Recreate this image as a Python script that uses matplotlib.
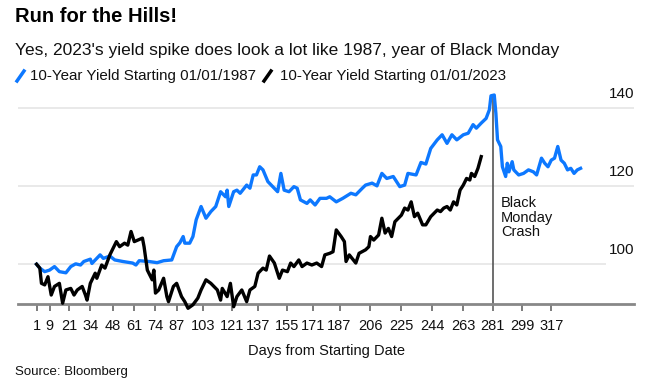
import matplotlib.pyplot as plt
from matplotlib.lines import Line2D
import matplotlib.transforms as mtransforms

plt.rcParams['font.family'] = ['Liberation Sans', 'DejaVu Sans']

# 1987 series, indexed to 100 on day 1
blue_days = [1, 3, 6, 9, 12, 15, 19, 22, 25, 28, 30, 34, 35, 40, 42, 46, 49, 54, 60, 62,
             64, 70, 75, 79, 84, 87, 89, 91, 92, 95, 97, 99, 102, 105, 108, 111, 114, 117, 118, 119,
             122, 124, 126, 130, 132, 134, 136, 138, 140, 143, 146, 149, 151, 153, 156, 159, 161, 163, 167, 169,
             172, 175, 179, 181, 185, 189, 194, 197, 201, 203, 207, 210, 213, 216, 220, 224, 227, 229, 234, 237,
             240, 243, 247, 250, 253, 256, 259, 263, 266, 269, 271, 274, 277, 279, 280, 282, 283, 284, 286, 287,
             289, 290, 291, 293, 294, 297, 300, 303, 306, 308, 311, 313, 315, 317, 319, 321, 323, 325, 327, 329,
             331, 333, 335]
blue_vals = [100, 99, 98.1, 98.5, 99.4, 98.1, 97.8, 99.4, 100.1, 99.8, 100.7, 101.3, 100.2, 102.4, 101.5, 102.1, 101.1, 100.7, 100.3, 99.8,
             100.9, 100.7, 100.4, 100.9, 101.1, 104.5, 105.5, 107.1, 105.4, 105.4, 107.1, 111.4, 114.8, 111.8, 113.5, 114.8, 118.6, 117.3, 119, 114.8,
             118.6, 119, 118.2, 120.3, 119.5, 122.9, 122.9, 125, 124.2, 121.2, 119.9, 118.6, 123.3, 119, 118.6, 119.9, 119.5, 116.5, 115.6, 116.5,
             115.2, 116.9, 116.9, 117.3, 116, 116.9, 118.2, 117.8, 119.5, 120.3, 120.8, 120.1, 123.3, 122, 122.5, 119.9, 120.3, 123.3, 122.9, 126.1,
             125.7, 129.7, 131.9, 133.2, 131, 133.2, 131.9, 133.2, 133.6, 135.8, 134.9, 136.2, 137.4, 139.6, 143.2, 143.4, 138.7, 131.9, 130.2, 125,
             122.5, 125.9, 123.7, 126.3, 124.2, 122.9, 123.3, 124.2, 123.7, 122.9, 127.2, 125.9, 125, 126.7, 127.2, 130.2, 126.7, 125.9, 124.2, 124.6,
             123.3, 124.2, 124.6]

# 2023 series, indexed to 100 on day 1
black_days = [1, 3, 4, 6, 8, 10, 12, 15, 17, 19, 22, 24, 26, 29, 31, 32, 34, 37, 38, 41,
              43, 46, 50, 52, 55, 57, 59, 61, 66, 67, 69, 72, 73, 74, 76, 79, 81, 82, 85, 87,
              90, 92, 94, 97, 100, 102, 105, 108, 112, 114, 115, 118, 120, 122, 124, 127, 130, 132, 135, 137,
              140, 142, 144, 147, 150, 152, 155, 157, 159, 162, 164, 167, 170, 173, 176, 178, 181, 183, 185, 188,
              190, 191, 193, 197, 199, 203, 205, 206, 208, 211, 213, 215, 217, 219, 221, 225, 227, 229, 231, 233,
              235, 238, 240, 243, 247, 249, 251, 253, 255, 257, 259, 261, 263, 265, 267, 268, 270, 272, 274]
black_vals = [100, 99, 95.1, 94.7, 96.8, 92.1, 94.3, 95.1, 90, 93.4, 93.8, 92.1, 93.4, 94.3, 92.1, 90.8, 95.1, 97.7, 96.4, 99.8,
              99, 102.4, 105.8, 104.5, 105.4, 104.9, 108.4, 105.8, 106.7, 104.5, 98.5, 96, 98.5, 92.6, 93.4, 96.4, 91.7, 90.4, 94.3, 95.1,
              91.7, 90.4, 88.7, 89.6, 91.3, 93.4, 96, 95.1, 93.4, 90.8, 93.8, 91.7, 95.1, 89.1, 91.7, 93.4, 90.4, 93.4, 94.3, 97.7,
              99, 98.5, 102.1, 100.3, 96.4, 98.5, 98.1, 100.3, 99.4, 101.1, 99.4, 100.3, 99.8, 100.3, 99.4, 102.4, 102.8, 103.2, 108.8, 107.1,
              105.8, 100.7, 102.4, 100.3, 102.8, 103.7, 104.5, 107.1, 106.2, 107.5, 111.8, 108, 109.2, 107.1, 110.9, 112.6, 114.4, 113.9, 116, 112.2,
              113.1, 110.1, 110.1, 112.2, 113.9, 113.5, 114.4, 114.8, 113.9, 116, 115.2, 119, 120.3, 122, 121.6, 123.3, 122.5, 124.6, 127.6]

tick_days = [1, 9, 21, 34, 48, 61, 74, 87, 103, 121, 137, 155, 171, 187, 206, 225, 244, 263, 281, 299, 317]
grid_vals = [140, 120, 100]
crash_day = 281

blue = '#0d78ff'
W, H = 658, 391
fig = plt.figure(figsize=(W / 100, H / 100), dpi=100)
ax = fig.add_axes([18 / W, 1 - 304 / H, 616 / W, 216 / H])
ax.set_xlim(-10.4, 367.8)
ax.set_ylim(89.8, 145.2)

# gridlines and right-hand labels
ax.hlines([140, 120], -10.4, 367.8, color='#e9e9e9', lw=1.4, zorder=0)
ax.hlines([100], -10.4, 350.6, color='#e9e9e9', lw=1.4, zorder=0)
off = mtransforms.ScaledTranslation(0, 14 / 100, fig.dpi_scale_trans)
for v in grid_vals:
    ax.text(1.0, v, str(v), transform=ax.get_yaxis_transform() + off,
            ha='right', va='center', fontsize=11, color='#111111')

ax.plot(blue_days, blue_vals, color=blue, lw=2.4, zorder=3, solid_joinstyle='round')
ax.plot(black_days, black_vals, color='black', lw=2.4, zorder=3, clip_on=False,
        solid_joinstyle='round')

ax.vlines(crash_day, 89.8, 143.4, color='#555555', lw=1.2, zorder=2)
ax.text(crash_day + 5, 117.5, 'Black\nMonday\nCrash', ha='left', va='top',
        fontsize=10.5, linespacing=1.05, color='#111111')

for s in ['top', 'left', 'right']:
    ax.spines[s].set_visible(False)
ax.spines['bottom'].set_color('#888888')
ax.spines['bottom'].set_linewidth(2)
ax.set_yticks([])
ax.set_xticks(tick_days)
ax.set_xticklabels([str(d) for d in tick_days])
ax.tick_params(axis='x', direction='out', length=5, width=1.2, color='#666666',
               labelsize=10.5, pad=6, labelcolor='#111111')
ax.set_xlabel('Days from Starting Date', fontsize=10.5, labelpad=8, color='#111111')

fig.text(15 / W, 1 - 17 / H, 'Run for the Hills!', fontsize=14.5, fontweight='bold',
         ha='left', va='center')
fig.text(15 / W, 1 - 50 / H, "Yes, 2023's yield spike does look a lot like 1987, year of Black Monday",
         fontsize=12.5, ha='left', va='center', color='#111111')

# legend
fig.add_artist(Line2D([17 / W, 24 / W], [1 - 81 / H, 1 - 71 / H], color=blue, lw=2.5))
fig.text(30 / W, 1 - 76 / H, '10-Year Yield Starting 01/01/1987', fontsize=10.9,
         ha='left', va='center', color='#111111')
fig.add_artist(Line2D([264 / W, 271 / W], [1 - 81 / H, 1 - 71 / H], color='black', lw=2.5))
fig.text(280 / W, 1 - 76 / H, '10-Year Yield Starting 01/01/2023', fontsize=10.9,
         ha='left', va='center', color='#111111')

fig.text(15 / W, 1 - 372 / H, 'Source: Bloomberg', fontsize=9.5, ha='left', va='center',
         color='#111111')

fig.savefig('out.png', dpi=100)
